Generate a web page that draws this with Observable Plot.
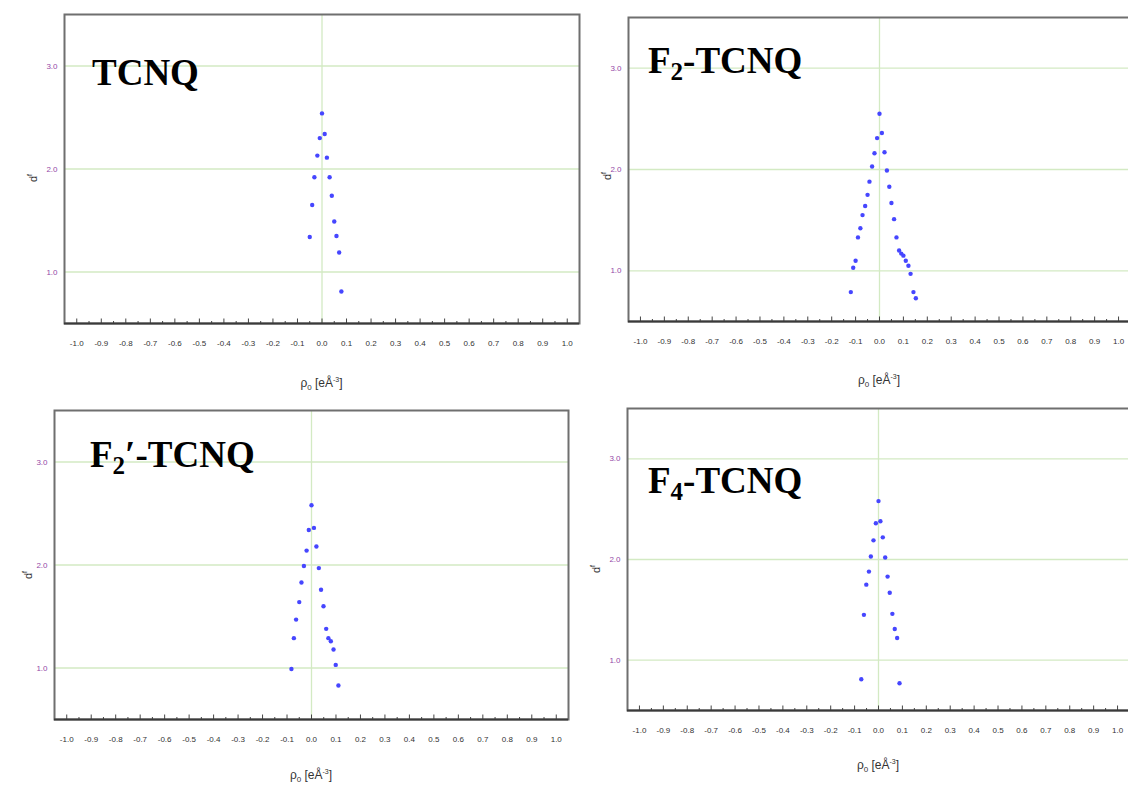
<!DOCTYPE html>
<html><head><meta charset="utf-8">
<script src="https://cdn.jsdelivr.net/npm/d3@7"></script>
<script src="https://cdn.jsdelivr.net/npm/@observablehq/plot@0.6"></script>
<style>
html,body{margin:0;padding:0;background:#fff;}
body{width:1128px;height:785px;overflow:hidden;position:relative;font-family:"Liberation Sans",Arial,sans-serif;}
.panel{position:absolute;}
.panel svg{max-width:none !important;}
.title{position:absolute;font-family:"Liberation Serif","Times New Roman",serif;font-weight:bold;font-size:37px;line-height:37px;color:#000;white-space:nowrap;}
.title sub{font-size:25px;line-height:0;vertical-align:-7px;}
.xlab{position:absolute;font-size:12px;color:#333;transform:translate(-50%,-50%);white-space:nowrap;line-height:12px;}
.xlab sub{font-size:8px;line-height:0;}
.xlab sup{font-size:7px;line-height:0;}
.ylab{position:absolute;font-size:11px;color:#333;transform:translate(-50%,-50%) rotate(-90deg);white-space:nowrap;line-height:11px;}
.ylab sup{font-size:7px;line-height:0;}
</style></head>
<body>
<script>
// ---- data ----
const tcnqRho = [0.000, 0.011, -0.009, -0.019, 0.020, -0.031, 0.031, 0.040, -0.040, 0.050, -0.050, 0.059, 0.070, 0.079];
const tcnqDf  = [2.54, 2.34, 2.30, 2.13, 2.11, 1.92, 1.92, 1.74, 1.65, 1.49, 1.34, 1.35, 1.19, 0.81];

const f2Rho = [0.000, 0.010, -0.010, 0.021, -0.021, 0.031, -0.031, 0.041, -0.042, 0.050, -0.050, -0.060, 0.061, -0.071, -0.080, 0.071, -0.090, 0.082, 0.091, 0.100, 0.110, 0.121, 0.130, -0.100, -0.110, -0.120, 0.142, 0.152];
const f2Df  = [2.55, 2.36, 2.31, 2.17, 2.16, 1.99, 2.03, 1.83, 1.88, 1.67, 1.75, 1.64, 1.51, 1.55, 1.42, 1.33, 1.33, 1.20, 1.17, 1.15, 1.10, 1.05, 0.97, 1.10, 1.03, 0.79, 0.79, 0.73];

const f2pRho = [0.000, 0.010, -0.011, 0.020, -0.020, -0.031, 0.030, -0.041, 0.039, -0.050, 0.049, -0.063, 0.060, -0.072, 0.069, 0.079, 0.090, 0.099, -0.082, 0.110];
const f2pDf  = [2.58, 2.36, 2.34, 2.18, 2.14, 1.99, 1.97, 1.83, 1.76, 1.64, 1.60, 1.47, 1.38, 1.29, 1.29, 1.26, 1.18, 1.03, 0.99, 0.83];

const f4Rho = [0.000, 0.008, -0.011, 0.018, -0.021, -0.032, 0.028, -0.040, 0.038, -0.051, 0.047, -0.061, 0.058, 0.068, 0.078, -0.072, 0.088];
const f4Df  = [2.58, 2.38, 2.36, 2.22, 2.19, 2.03, 2.02, 1.88, 1.83, 1.75, 1.67, 1.45, 1.46, 1.31, 1.22, 0.81, 0.77];

const xMajorTicks = [-1.0, -0.9, -0.8, -0.7, -0.6, -0.5, -0.4, -0.3, -0.2, -0.1, 0.0, 0.1, 0.2, 0.3, 0.4, 0.5, 0.6, 0.7, 0.8, 0.9, 1.0];
const xMinorTicks = [-0.95, -0.85, -0.75, -0.65, -0.55, -0.45, -0.35, -0.25, -0.15, -0.05, 0.05, 0.15, 0.25, 0.35, 0.45, 0.55, 0.65, 0.75, 0.85, 0.95];
const yTicks = [1.0, 2.0, 3.0];
const xDomain = [-1.05, 1.05];
const yDomain = [0.5, 3.5];

const titles = ["TCNQ", "F<sub>2</sub>-TCNQ", "F<sub>2</sub>′-TCNQ", "F<sub>4</sub>-TCNQ"];
const xLabel = "ρ<sub>0</sub> [eÅ<sup>-3</sup>]";
const yLabel = "d<sup>f</sup>";

// ---- layout ----
const panels = [
  {rho: tcnqRho, df: tcnqDf, left: 64,  top: 14,  w: 515, h: 309, tx: 92,  ty: 54,  xl: 60, yl: [33, 178]},
  {rho: f2Rho,   df: f2Df,   left: 628, top: 17,  w: 502, h: 304, tx: 648, ty: 42,  xl: 59, yl: [607, 176]},
  {rho: f2pRho,  df: f2pDf,  left: 54,  top: 410, w: 514, h: 309, tx: 90,  ty: 436, xl: 56, yl: [28, 575]},
  {rho: f4Rho,   df: f4Df,   left: 627, top: 408, w: 502, h: 302, tx: 648, ty: 462, xl: 55, yl: [596, 569]}
];

const gridColor = "#d3eac3";
const dotColor = "#4646ff";
const mL = 70, mR = 10, mT = 10, mB = 40;

panels.forEach((p, k) => {
  const pts = p.rho.map((r, i) => ({rho: r, df: p.df[i]}));
  const W = p.w + mL + mR, H = p.h + mT + mB;
  const chart = Plot.plot({
    width: W,
    height: H,
    marginLeft: mL, marginRight: mR, marginTop: mT, marginBottom: mB,
    x: {domain: xDomain},
    y: {domain: yDomain},
    style: {background: "transparent", overflow: "visible", maxWidth: "none", fontFamily: "'Liberation Sans', Arial, sans-serif"},
    marks: [
      Plot.ruleY(yTicks, {stroke: gridColor, strokeWidth: 1.3}),
      Plot.ruleX([0], {stroke: gridColor, strokeWidth: 1.3}),
      Plot.frame({stroke: "#6f6f6f", strokeWidth: 2}),
      Plot.axisX(xMinorTicks, {tickSize: -2, tickFormat: () => "", stroke: "#444", label: null}),
      Plot.axisX(xMajorTicks, {tickSize: -4.5, tickFormat: () => "", stroke: "#444", label: null}),
      Plot.axisX(xMajorTicks, {tickSize: 0, tickPadding: 17, tickFormat: d => d.toFixed(1), fontSize: 8, fill: "#333", label: null}),
      Plot.axisY(yTicks, {tickSize: 0, tickPadding: 7, tickFormat: d => d.toFixed(1), fontSize: 8, fill: "#9347a8", label: null}),
      Plot.ruleY([yDomain[0]], {stroke: "#3a3a3a", strokeWidth: 2}),
      Plot.dot(pts, {x: "rho", y: "df", r: 2.2, fill: dotColor, stroke: null})
    ]
  });
  chart.style.maxWidth = "none";
  chart.setAttribute("width", W);
  chart.setAttribute("height", H);
  const wrap = document.createElement("div");
  wrap.className = "panel";
  wrap.style.left = (p.left - mL) + "px";
  wrap.style.top = (p.top - mT) + "px";
  wrap.style.width = W + "px";
  wrap.style.height = H + "px";
  wrap.appendChild(chart);
  document.body.appendChild(wrap);

  const t = document.createElement("div");
  t.className = "title";
  t.style.left = p.tx + "px";
  t.style.top = p.ty + "px";
  t.innerHTML = titles[k];
  document.body.appendChild(t);

  const x0 = p.left + p.w * (0 - xDomain[0]) / (xDomain[1] - xDomain[0]);
  const xl = document.createElement("div");
  xl.className = "xlab";
  xl.style.left = x0 + "px";
  xl.style.top = (p.top + p.h + p.xl) + "px";
  xl.innerHTML = xLabel;
  document.body.appendChild(xl);

  const yl = document.createElement("div");
  yl.className = "ylab";
  yl.style.left = p.yl[0] + "px";
  yl.style.top = p.yl[1] + "px";
  yl.innerHTML = yLabel;
  document.body.appendChild(yl);
});
</script>
</body></html>
